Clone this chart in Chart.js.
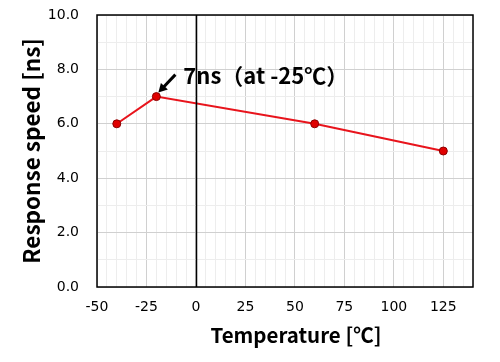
<!DOCTYPE html>
<html>
<head>
<meta charset="utf-8">
<script src="https://cdn.jsdelivr.net/npm/chart.js@4/dist/chart.umd.min.js"></script>
<style>
  html, body { margin: 0; padding: 0; background: #fff; }
  #wrap { width: 500px; height: 362px; }
</style>
</head>
<body>
<div id="wrap"><canvas id="line-chart"></canvas></div>
<script>
const temperatures = [-40, -20, 60, 125];
const speeds = [6.0, 7.0, 6.0, 5.0];
const xTickLabels = [-50, -25, 0, 25, 50, 75, 100, 125];
const yTickLabels = [0, 2, 4, 6, 8, 10];
const xTitle = 'Temperature [℃]';
const yTitle = 'Response speed [ns]';
const noteText = '7ns（at -25℃）';
const notePoint = 1;

const tickFont = { family: '"DejaVu Sans", Verdana, sans-serif', size: 14 };
const cjkFamily = '"Noto Sans CJK JP", "DejaVu Sans", sans-serif';

// frame, zero line, x title and the arrow note
const extras = {
    id: 'extras',
    afterDatasetsDraw(chart) {
        const { ctx, chartArea: a, scales: { x, y } } = chart;
        ctx.save();
        ctx.strokeStyle = '#000';
        ctx.lineWidth = 1.5;
        const x0 = Math.round(x.getPixelForValue(0)) + 0.5;
        ctx.beginPath();
        ctx.moveTo(x0, a.top);
        ctx.lineTo(x0, a.bottom);
        ctx.stroke();
        ctx.strokeRect(a.left, a.top, a.right - a.left, a.bottom - a.top);

        const px = x.getPixelForValue(temperatures[notePoint]);
        const py = y.getPixelForValue(speeds[notePoint]);
        const tipX = px + 2, tipY = py - 4;
        const tailX = px + 19, tailY = py - 22;
        const ang = Math.atan2(tipY - tailY, tipX - tailX);
        ctx.lineWidth = 3;
        ctx.beginPath();
        ctx.moveTo(tailX, tailY);
        ctx.lineTo(tipX - 7 * Math.cos(ang), tipY - 7 * Math.sin(ang));
        ctx.stroke();
        ctx.fillStyle = '#000';
        ctx.beginPath();
        ctx.moveTo(tipX, tipY);
        ctx.lineTo(tipX - 10 * Math.cos(ang - 0.5), tipY - 10 * Math.sin(ang - 0.5));
        ctx.lineTo(tipX - 10 * Math.cos(ang + 0.5), tipY - 10 * Math.sin(ang + 0.5));
        ctx.closePath();
        ctx.fill();

        ctx.font = 'bold 22px ' + cjkFamily;
        ctx.textBaseline = 'middle';
        ctx.fillText(noteText, px + 27, py - 21);

        ctx.font = 'bold 20.5px ' + cjkFamily;
        ctx.textAlign = 'center';
        ctx.fillText(xTitle, 296, 335);
        ctx.restore();
    }
};

const ctx = document.getElementById('line-chart').getContext('2d');

const lineChart = new Chart(ctx, {
    type: 'line',
    data: {
        datasets: [{
            data: temperatures.map((t, i) => ({ x: t, y: speeds[i] })),
            borderColor: '#e8141c',
            borderWidth: 2,
            backgroundColor: '#e00000',
            pointBorderColor: '#8b0000',
            pointBorderWidth: 1,
            pointRadius: 4,
            tension: 0
        }]
    },
    options: {
        responsive: true,
        maintainAspectRatio: false,
        animation: false,
        layout: { padding: { top: 15, right: 27, left: 0, bottom: 0 } },
        plugins: {
            legend: { display: false },
            tooltip: { enabled: false }
        },
        scales: {
            x: {
                type: 'linear',
                min: -50,
                max: 140,
                afterBuildTicks: (s) => {
                    s.ticks = [];
                    for (let v = -50; v <= 140; v += 5) s.ticks.push({ value: v });
                },
                afterFit: (s) => {
                    s.height = 75;
                    s.paddingLeft = 0;
                    s.paddingRight = 0;
                },
                ticks: {
                    autoSkip: false,
                    maxRotation: 0,
                    padding: 12,
                    color: '#000',
                    font: tickFont,
                    callback: (v) => xTickLabels.includes(v) ? String(v) : ''
                },
                grid: {
                    drawTicks: false,
                    color: (c) => c.tick && c.tick.value % 25 === 0 ? '#d0d0d0' : '#ededed',
                    lineWidth: 1
                },
                border: { display: false }
            },
            y: {
                min: 0,
                max: 10,
                afterBuildTicks: (s) => {
                    s.ticks = [];
                    for (let v = 0; v <= 10; v += 1) s.ticks.push({ value: v });
                },
                afterFit: (s) => {
                    s.width = 97;
                    s.paddingTop = 0;
                    s.paddingBottom = 0;
                },
                ticks: {
                    autoSkip: false,
                    padding: 18,
                    color: '#000',
                    font: tickFont,
                    callback: (v) => yTickLabels.includes(v) ? v.toFixed(1) : ''
                },
                grid: {
                    drawTicks: false,
                    color: (c) => c.tick && c.tick.value % 2 === 0 ? '#d0d0d0' : '#ededed',
                    lineWidth: 1
                },
                border: { display: false },
                title: {
                    display: true,
                    text: yTitle,
                    color: '#000',
                    font: { family: cjkFamily, size: 22.5, weight: 'bold' },
                    padding: { top: 18, bottom: 3 }
                }
            }
        }
    },
    plugins: [extras]
});
</script>
</body>
</html>
